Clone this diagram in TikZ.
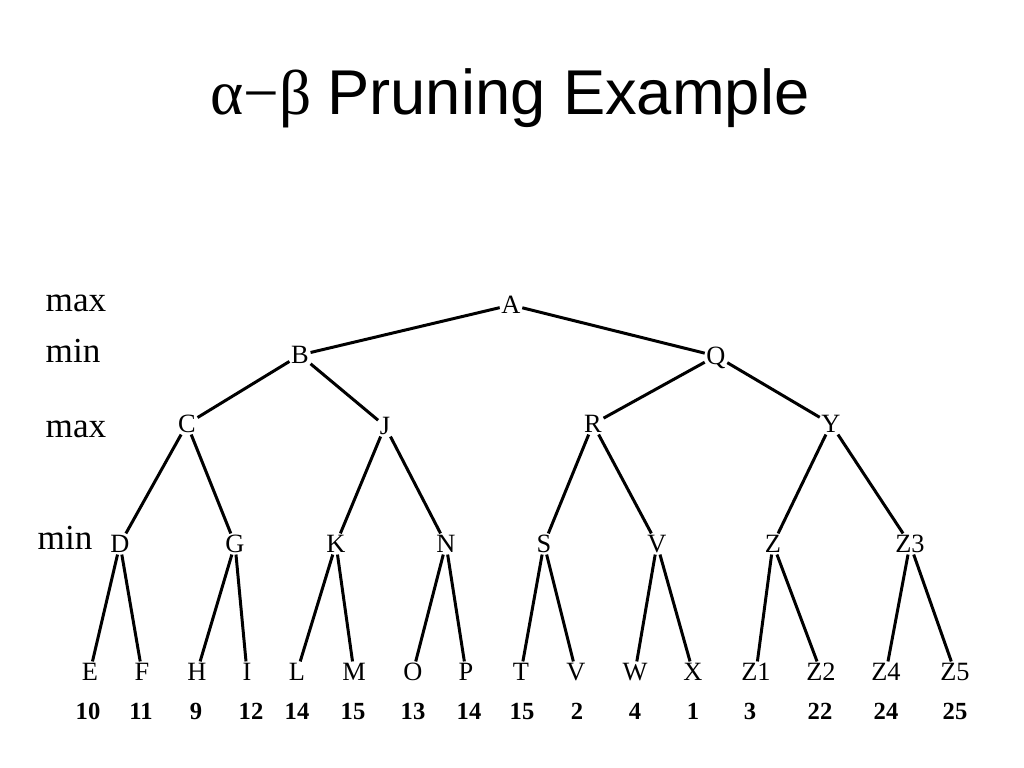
\documentclass[tikz,border=0pt]{standalone}
\usepackage{fontspec}
\setmainfont{Liberation Serif}
\newfontfamily\titlefont{Liberation Sans}
\usetikzlibrary{positioning}
\tikzset{
  treenode/.style={font=\fontsize{7.5}{8}\selectfont, inner sep=0.3pt, text height=5pt, text depth=0pt},
  leafval/.style={font=\fontsize{7}{8}\selectfont\bfseries, inner sep=0.5pt, text height=5pt, text depth=0pt},
  levellabel/.style={font=\fontsize{10}{11}\selectfont, anchor=base west, inner sep=0pt},
  treeedge/.style={line width=0.85pt, draw=black}
}

\begin{document}
\begin{tikzpicture}[x=0.01cm, y=-0.01cm]
\useasboundingbox (0,0) rectangle (1024,768);
\node[font=\fontsize{18}{20}\selectfont, anchor=base, inner sep=0pt] (title) at (510,115)
  {\textrm{α−β} \titlefont Pruning Example};
% level labels
\node[levellabel] (lmax1) at (45,312) {max};
\node[levellabel] (lmin1) at (45,363) {min};
\node[levellabel] (lmax2) at (45,438) {max};
\node[levellabel] (lmin2) at (37,550) {min};
% inner nodes
\foreach \n/\x/\y in {A/511/305, B/300/355, Q/716/356,
    C/187/424, J/385/426, R/593/424, Y/831/424,
    D/120/544, G/235/544, K/336/544, N/446/544,
    S/544/544, V/657/544, Z/773/544, Z3/910/544}
  \node[treenode] (\n) at (\x,\y) {\n};
% leaves and their values
\foreach \n/\t/\x/\vx/\v in {E/E/90/88/10, F/F/142/141/11, H/H/197/196/9, I/I/247/251/12,
    L/L/297/297/14, M/M/354/353/15, O/O/413/413/13, P/P/466/469/14,
    T/T/521/522/15, V2/V/576/577/2, W/W/635/635/4, X/X/693/693/1,
    Z1/Z1/756/750/3, Z2/Z2/821/820/22, Z4/Z4/886/886/24, Z5/Z5/955/955/25}
{
  \node[treenode] (\n) at (\x,672) {\t};
  \node[leafval] (val\n) at (\vx,711) {\v};
}
% edges
\foreach \a/\b in {A/B, A/Q, B/C, B/J, Q/R, Q/Y,
    C/D, C/G, J/K, J/N, R/S, R/V, Y/Z, Y/Z3,
    D/E, D/F, G/H, G/I, K/L, K/M, N/O, N/P,
    S/T, S/V2, V/W, V/X, Z/Z1, Z/Z2, Z3/Z4, Z3/Z5}
  \draw[treeedge] (\a) -- (\b);
\end{tikzpicture}
\end{document}
